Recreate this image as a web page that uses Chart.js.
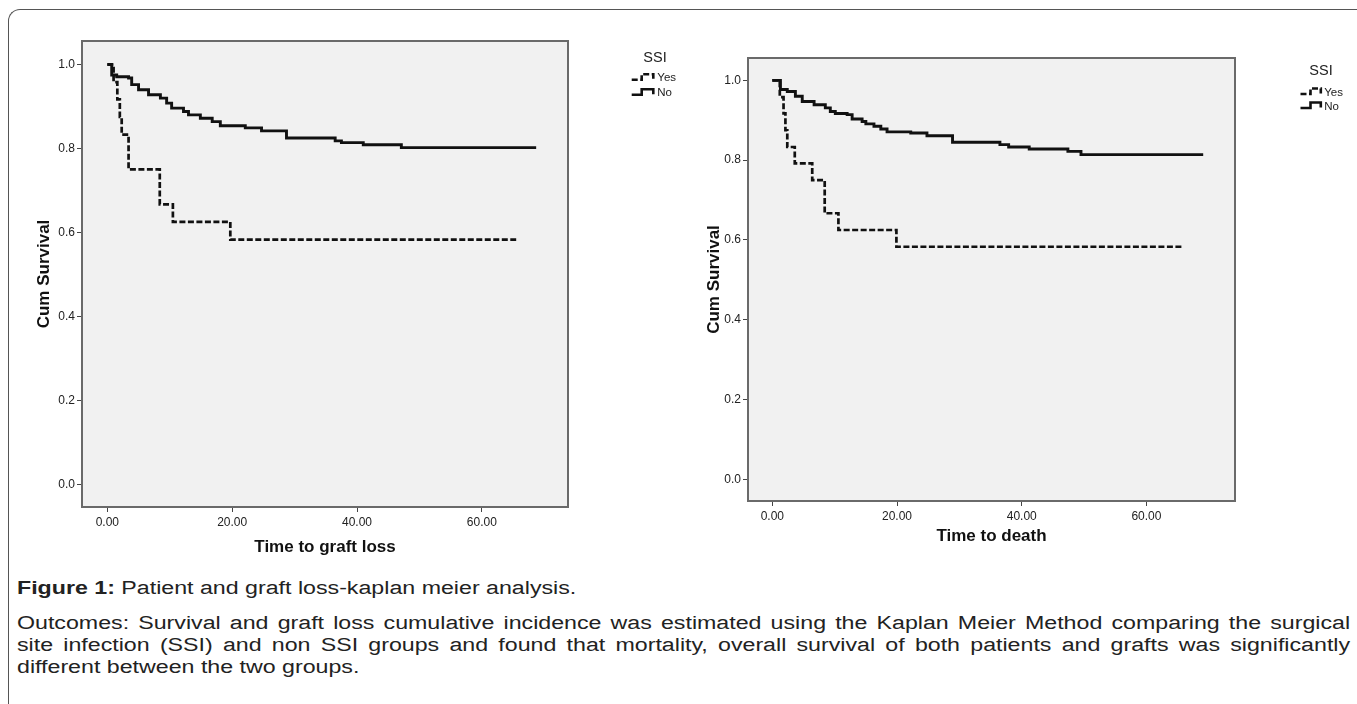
<!DOCTYPE html>
<html>
<head>
<meta charset="utf-8">
<script src="https://cdn.jsdelivr.net/npm/chart.js@4.4.0/dist/chart.umd.min.js"></script>
<style>
  body { margin: 0; background: #fff; width: 1357px; height: 704px; overflow: hidden; position: relative;
         font-family: "Liberation Sans", Arial, sans-serif; }
  .frame { position: absolute; left: 8px; top: 9px; width: 1400px; height: 800px;
           border-top: 1px solid #555; border-left: 1px solid #555; border-top-left-radius: 12px; }
  .chartBox { position: absolute; top: 0; height: 570px; }
  #leftBox { left: 0; width: 700px; }
  #rightBox { left: 680px; width: 677px; }
  /* the caption in the source figure is stretched sideways */
  .caption { position: absolute; left: 17px; top: 577px; width: 1035px; font-size: 18px; line-height: 22px;
             color: #222; transform: scaleX(1.288); transform-origin: 0 0; white-space: nowrap; }
  .caption .line { display: block; }
  .caption .just { text-align: justify; text-align-last: justify; }
  .caption .gap { margin-bottom: 13px; }
</style>
</head>
<body>
<div class="frame"></div>
<div class="chartBox" id="leftBox"><canvas id="graftChart" width="700" height="570"></canvas></div>
<div class="chartBox" id="rightBox"><canvas id="deathChart" width="677" height="570"></canvas></div>
<div class="caption">
  <span class="line gap"><b>Figure 1:</b> Patient and graft loss-kaplan meier analysis.</span>
  <span class="line just">Outcomes: Survival and graft loss cumulative incidence was estimated using the Kaplan Meier Method comparing the surgical</span>
  <span class="line just">site infection (SSI) and non SSI groups and found that mortality, overall survival of both patients and grafts was significantly</span>
  <span class="line">different between the two groups.</span>
</div>
<script>
// tick labels
const xTicks = [0, 20, 40, 60];
const yTicks = [0, 0.2, 0.4, 0.6, 0.8, 1.0];
const groups = ['Yes', 'No'];

// Time to graft loss (times of each drop, survival after the drop)
const graftYesTime = [0, 1.0, 1.6, 2.0, 2.3, 3.4, 8.4, 10.5, 19.7, 65.5];
const graftYesSurv = [1.0, 0.958, 0.917, 0.875, 0.833, 0.75, 0.667, 0.625, 0.583, 0.583];
const graftNoTime = [0, 0.7, 1.5, 3.4, 3.9, 5.0, 6.6, 8.5, 9.5, 10.3, 12.2, 13.0, 14.9, 16.8, 18.1, 22.1, 24.7, 28.7, 36.5, 37.5, 41.0, 47.1, 68.7];
const graftNoSurv = [1.0, 0.975, 0.971, 0.968, 0.952, 0.940, 0.928, 0.920, 0.908, 0.896, 0.888, 0.880, 0.872, 0.864, 0.854, 0.849, 0.842, 0.825, 0.818, 0.814, 0.809, 0.802, 0.802];

// Time to death
const deathYesTime = [0, 1.2, 1.8, 2.1, 2.4, 3.6, 6.4, 8.4, 10.6, 19.9, 65.9];
const deathYesSurv = [1.0, 0.958, 0.917, 0.875, 0.833, 0.792, 0.75, 0.667, 0.625, 0.583, 0.583];
const deathNoTime = [0, 1.3, 2.4, 3.7, 4.8, 6.7, 8.5, 9.3, 10.1, 12.0, 12.8, 14.4, 15.0, 16.3, 17.4, 18.4, 22.2, 24.8, 28.9, 36.5, 37.9, 41.2, 47.4, 49.5, 69.1];
const deathNoSurv = [1.0, 0.977, 0.972, 0.960, 0.947, 0.939, 0.931, 0.922, 0.917, 0.914, 0.903, 0.897, 0.891, 0.885, 0.878, 0.871, 0.868, 0.861, 0.845, 0.839, 0.833, 0.828, 0.822, 0.814, 0.814];

const FONT = '"Liberation Sans", Arial, sans-serif';
Chart.defaults.font.family = FONT;
Chart.defaults.color = '#222';

const toPoints = (t, s) => t.map((x, i) => ({ x, y: s[i] }));

// grey plot background + frame
const plotFrame = {
  id: 'plotFrame',
  beforeDraw(chart) {
    const { ctx, chartArea: a } = chart;
    ctx.save();
    ctx.fillStyle = '#f1f1f1';
    ctx.fillRect(a.left, a.top, a.right - a.left, a.bottom - a.top);
    ctx.restore();
  },
  afterDraw(chart) {
    const { ctx, chartArea: a } = chart;
    ctx.save();
    ctx.strokeStyle = '#6a6a6a';
    ctx.lineWidth = 2;
    ctx.strokeRect(a.left, a.top, a.right - a.left, a.bottom - a.top);
    ctx.restore();
  }
};

// SPSS-style legend with little step icons
const ssiLegend = {
  id: 'ssiLegend',
  afterDraw(chart, args, opts) {
    const { ctx } = chart;
    ctx.save();
    ctx.fillStyle = '#222';
    ctx.textBaseline = 'middle';
    ctx.textAlign = 'center';
    ctx.font = '14.5px ' + FONT;
    ctx.fillText('SSI', opts.titleX, opts.titleY);
    ctx.font = '11.5px ' + FONT;
    ctx.textAlign = 'left';
    chart.data.datasets.forEach((ds, i) => {
      const y = opts.rowY[i];
      ctx.strokeStyle = '#111';
      ctx.lineWidth = 2.6;
      ctx.setLineDash(ds.borderDash || []);
      ctx.beginPath();
      ctx.moveTo(opts.iconX0, y + 1.5);
      ctx.lineTo(opts.iconX0 + 10, y + 1.5);
      ctx.lineTo(opts.iconX0 + 10, y - 4);
      ctx.lineTo(opts.iconX1, y - 4);
      ctx.lineTo(opts.iconX1, y + 1);
      ctx.stroke();
      ctx.setLineDash([]);
      ctx.fillText(ds.label, opts.textX, y);
    });
    ctx.restore();
  }
};

function makeChart(id, yesT, yesS, noT, noS, xTitle, lay) {
  return new Chart(document.getElementById(id), {
    type: 'scatter',
    data: {
      datasets: [
        { label: groups[0], data: toPoints(yesT, yesS), showLine: true, stepped: 'before',
          borderColor: '#111', borderWidth: 2.7, borderDash: [6, 2.5], pointRadius: 0 },
        { label: groups[1], data: toPoints(noT, noS), showLine: true, stepped: 'before',
          borderColor: '#111', borderWidth: 2.9, pointRadius: 0 }
      ]
    },
    options: {
      responsive: false,
      animation: false,
      layout: { padding: { top: lay.top, right: lay.right, bottom: 0, left: 0 } },
      plugins: {
        legend: { display: false },
        tooltip: { enabled: false },
        ssiLegend: lay.legend
      },
      scales: {
        x: {
          type: 'linear', min: lay.xMin, max: lay.xMax,
          afterBuildTicks: s => { s.ticks = xTicks.map(v => ({ value: v })); },
          afterFit: s => { s.height = lay.xHeight; },
          ticks: { callback: v => v.toFixed(2), font: { size: 12 }, color: '#222', padding: 3, maxRotation: 0 },
          grid: { drawOnChartArea: false, drawTicks: true, tickLength: 5, color: '#444' },
          border: { display: false },
          title: { display: true, text: xTitle, font: { size: 17, weight: 'bold' }, color: '#111',
                   padding: { top: 0, bottom: lay.xTitlePad } }
        },
        y: {
          type: 'linear', min: -0.054, max: 1.056,
          afterBuildTicks: s => { s.ticks = yTicks.map(v => ({ value: v })); },
          afterFit: s => { s.width = lay.yWidth; },
          ticks: { callback: v => v.toFixed(1), font: { size: 12 }, color: '#222', padding: 2 },
          grid: { drawOnChartArea: false, drawTicks: true, tickLength: 5, color: '#444' },
          border: { display: false },
          title: { display: true, text: 'Cum Survival', font: { size: 17, weight: 'bold' }, color: '#111',
                   padding: { top: lay.yTitlePad, bottom: 0 } }
        }
      }
    },
    plugins: [plotFrame, ssiLegend]
  });
}

makeChart('graftChart', graftYesTime, graftYesSurv, graftNoTime, graftNoSurv, 'Time to graft loss', {
  top: 41, right: 132, xHeight: 63, yWidth: 82, xMin: -4.06, xMax: 73.8, xTitlePad: 12.3, yTitlePad: 34.4,
  legend: { titleX: 655, titleY: 58.3, rowY: [78.3, 93.3], iconX0: 631.7, iconX1: 653.3, textX: 657.3 }
});

makeChart('deathChart', deathYesTime, deathYesSurv, deathNoTime, deathNoSurv, 'Time to death', {
  top: 58, right: 122, xHeight: 69, yWidth: 68, xMin: -3.9, xMax: 74.2, xTitlePad: 23.3, yTitlePad: 24.3,
  legend: { titleX: 641, titleY: 71.4, rowY: [92.5, 106.5], iconX0: 620.5, iconX1: 640.8, textX: 644.2 }
});
</script>
</body>
</html>
